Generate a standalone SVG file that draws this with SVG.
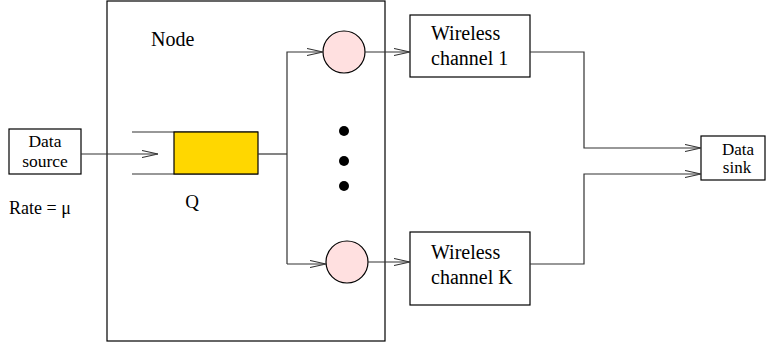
<svg xmlns="http://www.w3.org/2000/svg" width="766" height="345" viewBox="0 0 766 345">
<style>
.box{fill:#fff;stroke:#000;stroke-width:1.2}
.ln{fill:none;stroke:#333;stroke-width:1.2}
.t{font-family:"Liberation Serif",serif;fill:#000}
.circ{fill:#ffe0e0;stroke:#000;stroke-width:1.2}
</style>
<defs>
<marker id="ah" markerWidth="16" markerHeight="8" refX="16" refY="4" orient="auto" markerUnits="userSpaceOnUse">
<path d="M0,0.5 L16,4 L0,7.5" fill="none" stroke="#333" stroke-width="1.1"/>
</marker>
</defs>
<rect width="766" height="345" fill="#fff"/>
<g id="node-box">
<rect class="box" x="107" y="1" width="278" height="340"/>
<text class="t" x="151" y="46" font-size="20">Node</text>
</g>
<g id="data-source">
<rect class="box" x="9" y="129" width="72" height="45"/>
<text class="t" x="45" y="147" font-size="17.5" text-anchor="middle">Data</text>
<text class="t" x="45" y="167" font-size="17.5" text-anchor="middle">source</text>
<text class="t" x="9" y="214" font-size="18">Rate = μ</text>
</g>
<g id="queue">
<path class="ln" d="M132,132 H258 M132,174 H258"/>
<rect x="174" y="132" width="84" height="42" fill="#ffd700" stroke="#000" stroke-width="1.2"/>
<text class="t" x="192" y="208" font-size="19" text-anchor="middle">Q</text>
</g>
<g id="server-1">
<circle class="circ" cx="344" cy="52" r="21"/>
</g>
<g id="server-k">
<circle class="circ" cx="347" cy="262" r="21"/>
</g>
<g id="dots">
<circle cx="344" cy="131" r="5" fill="#000"/>
<circle cx="344" cy="161" r="5" fill="#000"/>
<circle cx="344" cy="186" r="5" fill="#000"/>
</g>
<g id="channel-1">
<rect class="box" x="410" y="15" width="120" height="62"/>
<text class="t" x="431" y="40" font-size="20">Wireless</text>
<text class="t" x="431" y="65" font-size="20">channel 1</text>
</g>
<g id="channel-k">
<rect class="box" x="410" y="232" width="120" height="73"/>
<text class="t" x="431" y="259" font-size="20">Wireless</text>
<text class="t" x="431" y="284" font-size="20">channel K</text>
</g>
<g id="data-sink">
<rect class="box" x="701" y="136" width="64" height="44"/>
<text class="t" x="738" y="155" font-size="17" text-anchor="middle">Data</text>
<text class="t" x="737" y="173" font-size="17" text-anchor="middle">sink</text>
</g>
<g id="connectors">
<path class="ln" d="M81,154 H158" marker-end="url(#ah)"/>
<path class="ln" d="M258,154 H287"/>
<path class="ln" d="M287,264 V52 H323" marker-end="url(#ah)"/>
<path class="ln" d="M287,264 H326" marker-end="url(#ah)"/>
<path class="ln" d="M365,52 H410" marker-end="url(#ah)"/>
<path class="ln" d="M368,262 H410" marker-end="url(#ah)"/>
<path class="ln" d="M530,52 H584 V148 H701" marker-end="url(#ah)"/>
<path class="ln" d="M530,264 H584 V174 H701" marker-end="url(#ah)"/>
</g>
</svg>
